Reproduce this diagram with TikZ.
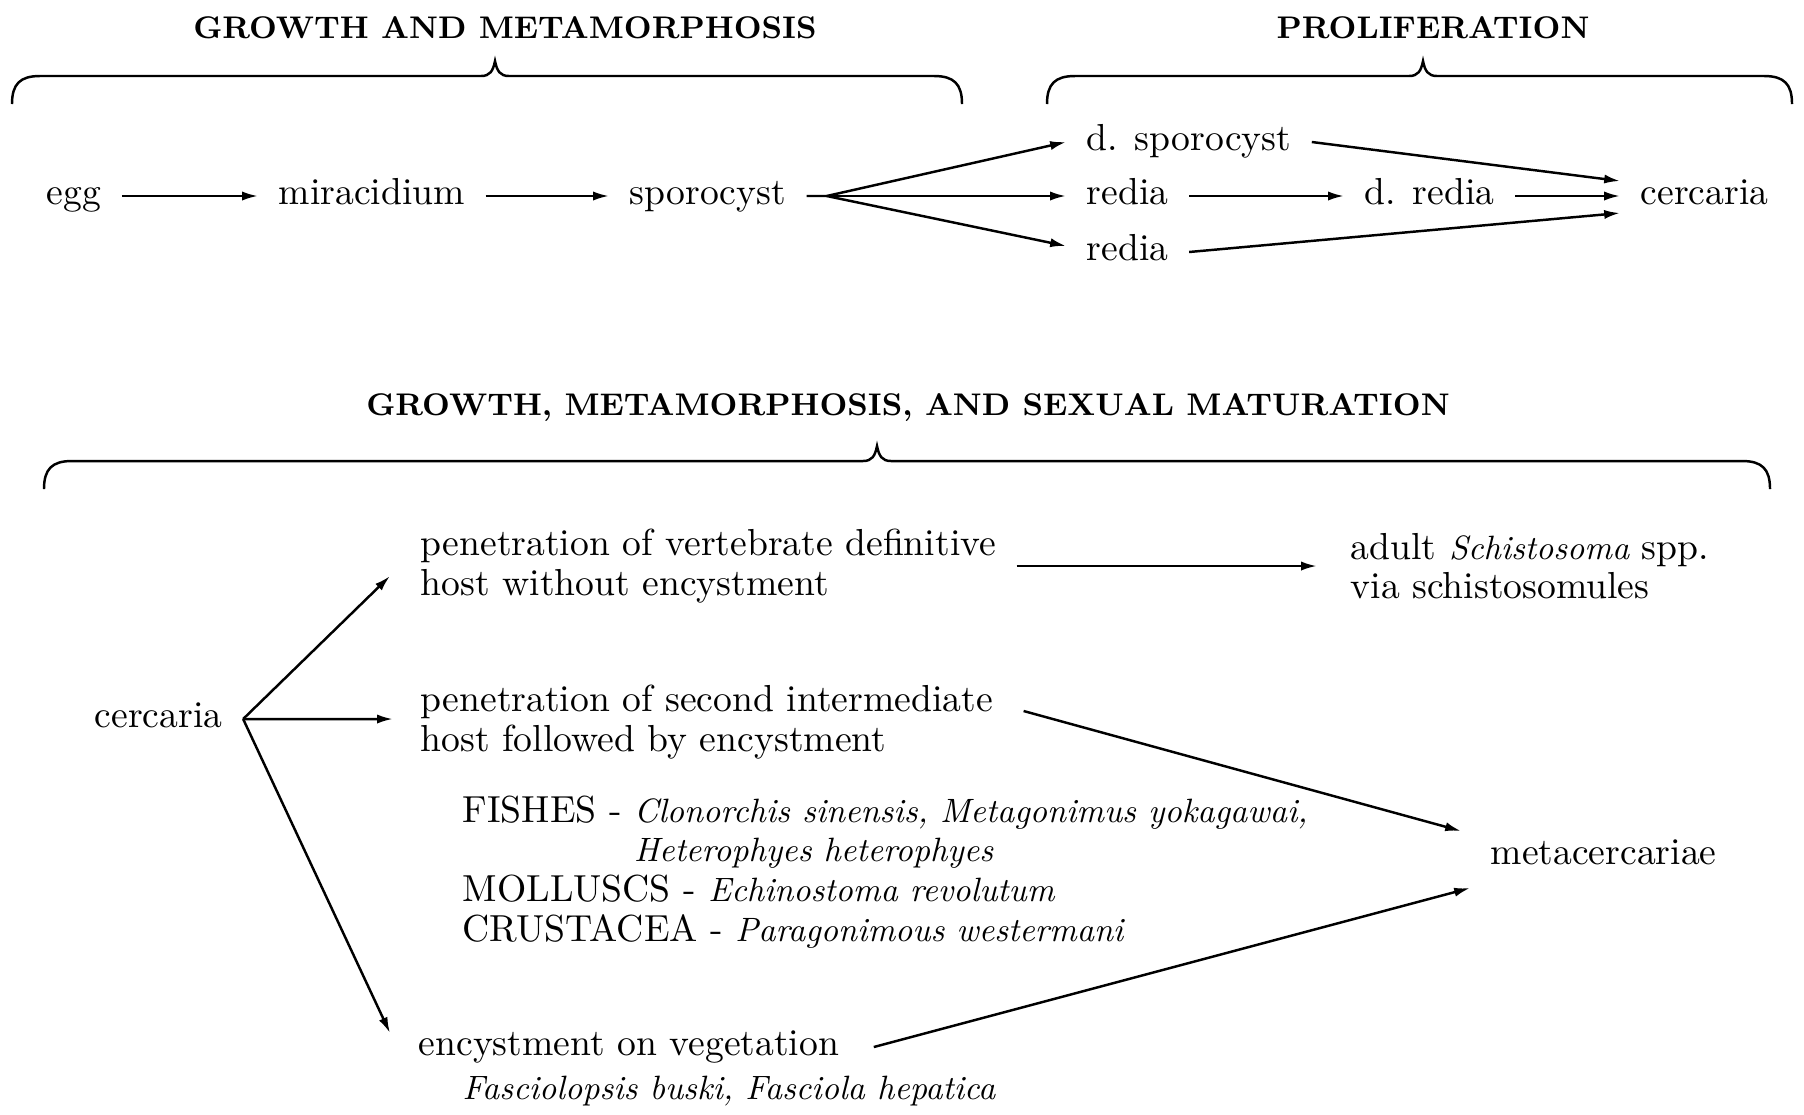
\documentclass[tikz,border=0pt]{standalone}
\usepackage{fontspec}
\usetikzlibrary{arrows.meta}

\newcommand{\stagebrace}[4]{%
  \draw [brace line] (#1,#4) .. controls (#1,#4-20) and (#1+8,#4-28) .. (#1+28,#4-28)
    -- (#3-14,#4-28) .. controls (#3-5,#4-28) and (#3-2,#4-33) .. (#3,#4-43)
    .. controls (#3+2,#4-33) and (#3+5,#4-28) .. (#3+14,#4-28)
    -- (#2-28,#4-28) .. controls (#2-8,#4-28) and (#2,#4-20) .. (#2,#4);}
\newcommand{\species}[1]{{\fontsize{9.6}{11.3}\selectfont\itshape #1}}

\tikzset{
  stage/.style={anchor=west, inner xsep=2mm, inner ysep=1pt, font=\fontsize{10.7}{11.3}\selectfont, text height=1.6ex, text depth=.45ex},
  block/.style={anchor=west, inner xsep=2mm, inner ysep=1pt, align=left, font=\fontsize{10.7}{11.3}\selectfont},
  heading/.style={font=\fontsize{8.9}{10}\selectfont\bfseries},
  link/.style={-{Latex[length=4.5pt,width=2.6pt]}, line width=0.7pt},
  brace line/.style={line width=0.7pt}
}

\begin{document}
\begin{tikzpicture}[x=0.01cm, y=-0.01cm]
	\useasboundingbox (0,0) rectangle (1804,1114);
	\node [heading] (growth) at (505,28) {GROWTH AND METAMORPHOSIS};
	\node [heading] (prolif) at (1433,28) {PROLIFERATION};
	\stagebrace{12}{962}{495}{104}
	\stagebrace{1047}{1792}{1423}{104}
	\node [stage] (egg) at (26,196) {egg};
	\node [stage] (mira) at (258,196) {miracidium};
	\node [stage] (spor) at (609,196) {sporocyst};
	\node [stage] (dspor) at (1066,142) {d. sporocyst};
	\node [stage] (redia) at (1066,196) {redia};
	\node [stage] (rediab) at (1066,252) {redia};
	\node [stage] (dredia) at (1344,196) {d. redia};
	\node [stage] (cerc) at (1620,196) {cercaria};
	\coordinate (fork) at ([xshift=2mm]spor.east);
	\draw [link] (egg) -- (mira);
	\draw [link] (mira) -- (spor);
	\draw [link] (spor.east) -- (fork) -- (dspor.west);
	\draw [link] (fork) -- (redia.west);
	\draw [link] (fork) -- ([yshift=0.6mm]rediab.west);
	\draw [link] (redia) -- (dredia);
	\draw [link] (dspor.east) -- ([yshift=1.5mm]cerc.west);
	\draw [link] (dredia) -- (cerc);
	\draw [link] (rediab.east) -- ([yshift=-1.7mm]cerc.west);

	\node [heading] (sexual) at (908,408) {GROWTH, METAMORPHOSIS, AND SEXUAL MATURATION};
	\stagebrace{44}{1770}{877}{489}
	\node [stage] (cercb) at (74,719) {cercaria};
	\node [block] (pena) at (400,566) {penetration of vertebrate definitive\\host without encystment};
	\node [block] (adult) at (1330,566) {adult \species{Schistosoma} spp.\\via schistosomules};
	\node [block] (penb) at (400,722) {penetration of second intermediate\\host followed by encystment};
	\node [block] (hosts) at (442,872) {FISHES - \species{Clonorchis sinensis, Metagonimus yokagawai,}\\
		\phantom{FISHES - }\species{Heterophyes heterophyes}\\
		MOLLUSCS - \species{Echinostoma revolutum}\\
		CRUSTACEA - \species{Paragonimous westermani}};
	\node [stage] (enc) at (398,1047) {encystment on vegetation};
	\node [stage] (encsp) at (442,1091) {\species{Fasciolopsis buski, Fasciola hepatica}};
	\node [stage] (meta) at (1470,856) {metacercariae};
	\draw [link] (cercb.east) -- ([shift={(-1mm,-1mm)}]pena.west);
	\draw [link] (cercb.east) -- ([shift={(-0.7mm,0.3mm)}]penb.west);
	\draw [link] (cercb.east) -- ([shift={(-0.8mm,1.4mm)}]enc.west);
	\draw [link] (pena.east) -- ([xshift=-1.3mm]adult.west);
	\draw [link] ([shift={(1mm,1.1mm)}]penb.east) -- ([shift={(-0.9mm,2.5mm)}]meta.west);
	\draw [link] ([xshift=1.4mm]enc.east) -- ([yshift=-3.2mm]meta.west);
\end{tikzpicture}
\end{document}
